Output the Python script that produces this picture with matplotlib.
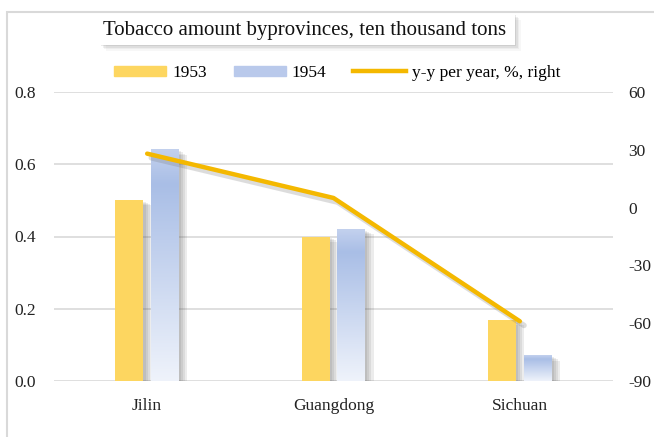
import numpy as np
import matplotlib
matplotlib.use("Agg")
from matplotlib import pyplot as plt
from matplotlib import patheffects as pe
from matplotlib.patches import Rectangle
from matplotlib.lines import Line2D
from matplotlib.colors import LinearSegmentedColormap

# data
provinces = ['Jilin', 'Guangdong', 'Sichuan']
amount_1953 = [0.50, 0.40, 0.17]
amount_1954 = [0.64, 0.42, 0.07]
yy_change = [28, 5, -59]          # %, right axis

left_ticks = [0.0, 0.2, 0.4, 0.6, 0.8]
right_ticks = [-90, -60, -30, 0, 30, 60]

yellow = '#fdd660'
gold = '#f4b800'
blue_cmap = LinearSegmentedColormap.from_list(
    'blue_bar', [(0.0, '#eff3fb'), (0.85, '#a9bee6'), (1.0, '#c3d1ee')])

plt.rcParams['font.family'] = ['Liberation Serif', 'DejaVu Serif']
plt.rcParams['axes.unicode_minus'] = False

fig = plt.figure(figsize=(6.54, 4.37), dpi=100)
W, H = 654, 437

def px(x0, y0, w, h):
    # pixel box (from top-left) -> figure fraction rect
    return (x0 / W, 1 - (y0 + h) / H), w / W, h / H

# light frame of the chart area (only top and left visible in the crop)
fig.patches.append(Rectangle((7 / W, -0.1), 1.2, 1.1 - 12 / H,
                             transform=fig.transFigure, fill=False,
                             edgecolor='#d9d9d9', linewidth=1.5))

ax = fig.add_axes([54 / W, (H - 381) / H, (613 - 54) / W, (381 - 92) / H])
ax2 = ax.twinx()

x = np.arange(len(provinces))
bw = 0.15
off = 0.095

def shadow():
    return [pe.SimplePatchShadow(offset=(d, -d * 0.6), shadow_rgbFace='#555555',
                                 alpha=0.11) for d in (1.5, 3, 4.5, 6)] + [pe.Normal()]

b1 = ax.bar(x - off, amount_1953, width=bw, color=yellow, zorder=3)
for p in b1:
    p.set_path_effects(shadow())

b2 = ax.bar(x + off, amount_1954, width=bw, color='none', zorder=3)
for p in b2:
    p.set_path_effects(shadow())
grad = np.linspace(0, 1, 256).reshape(-1, 1)
for xi, h in zip(x + off, amount_1954):
    ax.imshow(grad, cmap=blue_cmap, origin='lower', aspect='auto', zorder=4,
              extent=(xi - bw / 2, xi + bw / 2, 0, h), interpolation='bilinear')

ax.set_xlim(-0.5, 2.5)
ax.set_ylim(0, 0.8)
ax.set_yticks(left_ticks)
ax.set_yticklabels([f'{v:.1f}' for v in left_ticks])
ax.set_xticks(x)
ax.set_xticklabels(provinces)
ax.grid(axis='y', color='#d9d9d9', linewidth=1.2, zorder=0)
ax.set_axisbelow(True)

ax2.plot(x, yy_change, color=gold, linewidth=3.2, solid_capstyle='round',
         zorder=5, path_effects=[pe.SimpleLineShadow(offset=(3, -3), shadow_color='#777777',
                                                     alpha=0.25, linewidth=4), pe.Normal()])
ax2.set_ylim(-90, 60)
ax2.set_yticks(right_ticks)

for a in (ax, ax2):
    for s in a.spines.values():
        s.set_visible(False)
    a.tick_params(length=0, labelsize=12.5, colors='#222222')
ax.tick_params(axis='y', pad=13)
ax.tick_params(axis='x', pad=12)
ax2.tick_params(axis='y', pad=11)

# title in a white box with a soft shadow
for d, a in ((1, 0.10), (2.5, 0.08), (4, 0.06), (5.5, 0.04)):
    (bx, by), bwid, bht = px(100 + d, 14 + d, 415, 31)
    fig.patches.append(Rectangle((bx, by), bwid, bht, transform=fig.transFigure,
                                 facecolor='#444444', edgecolor='none', alpha=a))
(bx, by), bwid, bht = px(100, 14, 415, 31)
fig.patches.append(Rectangle((bx, by), bwid, bht, transform=fig.transFigure,
                             facecolor='white', edgecolor='none'))
fig.text(305 / W, 1 - 30 / H, 'Tobacco amount byprovinces, ten thousand tons',
         ha='center', va='center', fontsize=15, color='#111111')

# legend
handles = [Rectangle((0, 0), 1, 1, color=yellow),
           Rectangle((0, 0), 1, 1, color='#b9c9eb'),
           Line2D([0], [0], color=gold, linewidth=3.2)]
leg = fig.legend(handles, ['1953', '1954', 'y-y per year, %, right'], ncol=3,
                 loc='center', bbox_to_anchor=(337 / W, 1 - 73 / H), frameon=False,
                 fontsize=12.5, handlelength=3.0, handleheight=0.55,
                 columnspacing=1.55, handletextpad=0.35)

fig.savefig('out.png', dpi=100)
